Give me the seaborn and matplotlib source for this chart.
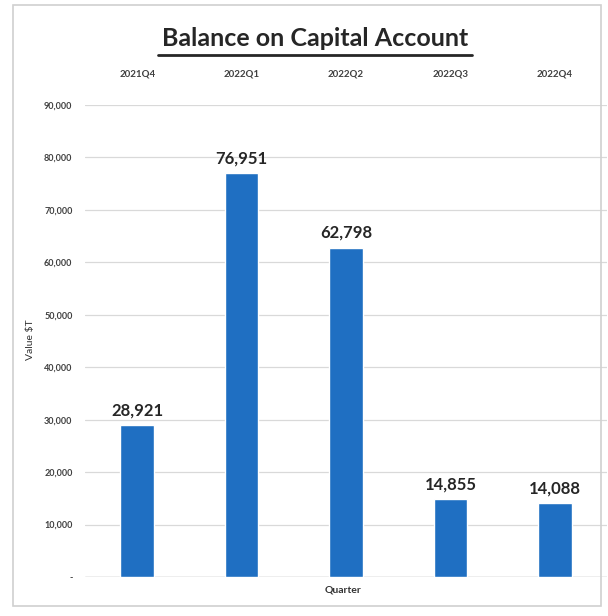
import matplotlib
matplotlib.use("Agg")
import matplotlib.pyplot as plt
import seaborn as sns
import pandas as pd
from matplotlib.patches import Rectangle
from matplotlib.ticker import FuncFormatter

quarters = ["2021Q4", "2022Q1", "2022Q2", "2022Q3", "2022Q4"]
values = [28921, 76951, 62798, 14855, 14088]
yticks = [0, 10000, 20000, 30000, 40000, 50000, 60000, 70000, 80000, 90000]

df = pd.DataFrame({"Quarter": quarters, "Value": values})

sns.set_theme(style="white")
plt.rcParams['font.family'] = ['Lato', 'DejaVu Sans']

fig = plt.figure(figsize=(6.08, 6.16), dpi=100)
fig.patch.set_facecolor("white")
ax = fig.add_axes([85/608, 1-577/616, 522/608, (577-105)/616])

sns.barplot(data=df, x="Quarter", y="Value", color="#1f6fc2", width=0.32,
            saturation=1, ax=ax, zorder=3)

ax.set_ylim(0, 90000)
ax.set_yticks(yticks)
ax.yaxis.set_major_formatter(FuncFormatter(lambda v, p: "-" if v == 0 else f"{int(v):,}"))
ax.grid(axis="y", color="#d9d9d9", linewidth=0.9, zorder=0)
for s in ax.spines.values():
    s.set_visible(False)
ax.axhline(0, color="#bfbfbf", linewidth=1.0, zorder=2)

ax.xaxis.tick_top()
ax.tick_params(axis="x", length=0, pad=19, labelsize=7, labelcolor="#404040")
ax.tick_params(axis="y", length=0, pad=9, labelsize=6.5, labelcolor="#404040")
for lbl in ax.get_xticklabels() + ax.get_yticklabels():
    lbl.set_fontweight("bold")

ax.set_xlabel("")
ax.set_ylabel("")
fig.text(343/608, 1-590/616, "Quarter", ha="center", va="center",
         fontsize=7.5, fontweight="bold", color="#333333")
fig.text(31/608, 1-340/616, "Value $T", ha="center", va="center", rotation=90,
         fontsize=7.5, color="#333333")

for i, v in enumerate(values):
    ax.annotate(f"{v:,}", (i, v), xytext=(0, 5), textcoords="offset points",
                ha="center", va="bottom", fontsize=12, fontweight="bold",
                color="#262626")

fig.text(315/608, 1-38/616, "Balance on Capital Account", ha="center", va="center",
         fontsize=18, fontweight="bold", color="#262626")
fig.add_artist(plt.Line2D([158/608, 472/608], [1-55/616, 1-55/616],
                          color="#262626", linewidth=2.0, transform=fig.transFigure))

fig.add_artist(Rectangle((13/608, 1-606/616), 588/608, 601/616, fill=False,
                         edgecolor="#d0d0d0", linewidth=1.2, transform=fig.transFigure))

fig.savefig("out.png", dpi=100, facecolor="white")
